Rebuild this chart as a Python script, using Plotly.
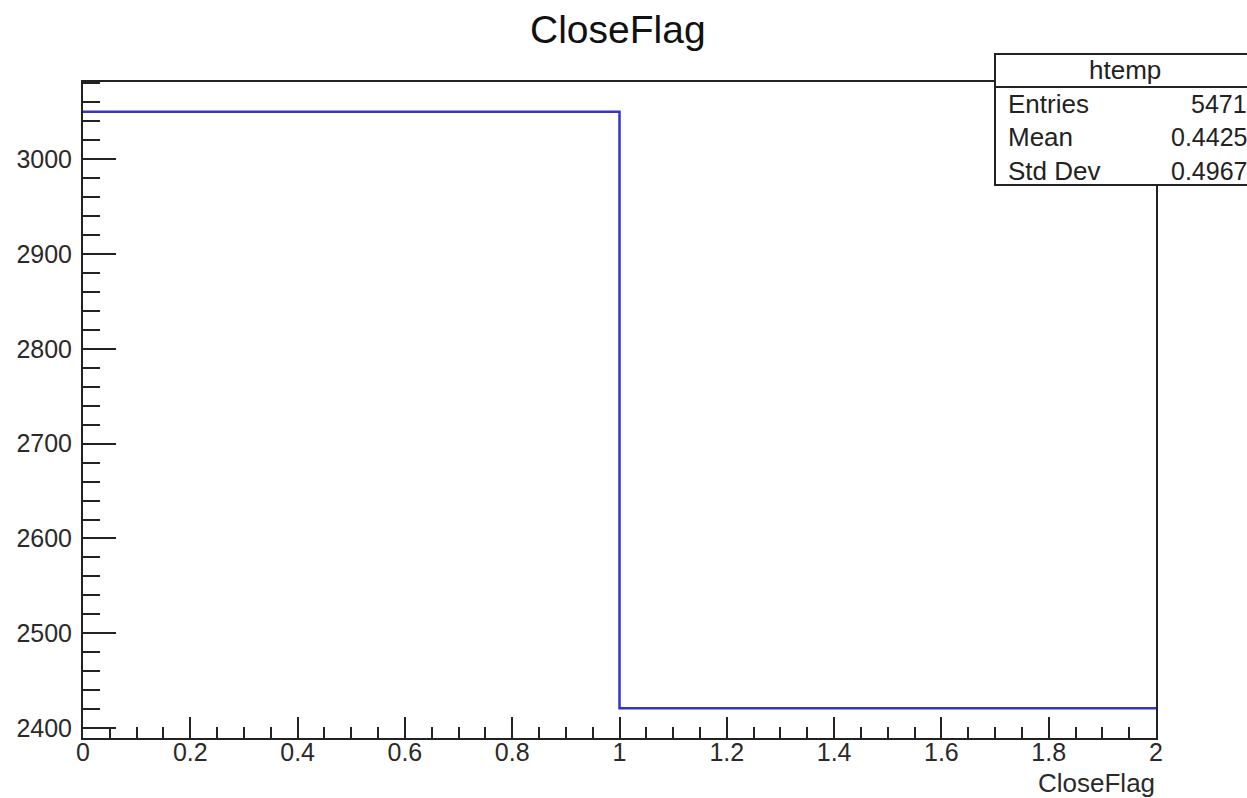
import plotly.graph_objects as go

# ---- data ----
bin_edges = [0, 1, 2]
bin_counts = [3050, 2421]
hist_name = "htemp"
stat_labels = ["Entries", "Mean", "Std Dev"]
stat_values = ["5471", "0.4425", "0.4967"]
var_name = "CloseFlag"

W, H = 1247, 798
L, R, T, B = 83, 1156, 82, 738

def px(xp):
    return (xp - L) / (R - L)

def py(yp):
    return (B - yp) / (B - T)

ymax_c, ymin_c = max(bin_counts), min(bin_counts)
span = ymax_c - ymin_c
yrange = [ymin_c - 0.05 * span, ymax_c + 0.05 * span]

xs = list(bin_edges)
ys = list(bin_counts) + [bin_counts[-1]]

fig = go.Figure()
fig.add_trace(go.Scatter(x=xs, y=ys, mode="lines", line=dict(color="#3535c0", width=2.5, shape="hv"),
                         hoverinfo="skip", showlegend=False))

font = "Liberation Sans, Arial, Helvetica, sans-serif"
fig.update_layout(
    width=W, height=H,
    margin=dict(l=L, r=W - R, t=T, b=H - B),
    paper_bgcolor="white", plot_bgcolor="white",
    font=dict(family=font, color="#222222"),
    showlegend=False,
)
fig.update_xaxes(range=[0, 2], showgrid=False, zeroline=False, showline=True, linecolor="#222222", linewidth=2,
                 mirror=True, ticks="inside", ticklen=21, tickwidth=1.5, tickcolor="#222222",
                 tick0=0, dtick=0.2, tickformat="~g", tickfont=dict(size=25, family=font, color="#2a2a2a"),
                 ticklabelstandoff=-9,
                 minor=dict(ticks="inside", ticklen=11, tickwidth=1.5, tickcolor="#222222", dtick=0.05, tick0=0, showgrid=False))
fig.update_yaxes(range=yrange, showgrid=False, zeroline=False, showline=True, linecolor="#222222", linewidth=2,
                 mirror=True, ticks="inside", ticklen=33, tickwidth=1.5, tickcolor="#222222",
                 tick0=2400, dtick=100, tickfont=dict(size=25, family=font, color="#2a2a2a"),
                 ticklabelstandoff=4,
                 minor=dict(ticks="inside", ticklen=17, tickwidth=1.5, tickcolor="#222222", dtick=20, tick0=2400, showgrid=False))

# title
fig.add_annotation(text=var_name, xref="paper", yref="paper", x=px(618), y=py(30), xanchor="center", yanchor="middle",
                   showarrow=False, font=dict(size=39, family=font, color="#111111"))
# x axis title
fig.add_annotation(text=var_name, xref="paper", yref="paper", x=px(1157), y=py(783), xanchor="right", yanchor="middle",
                   showarrow=False, font=dict(size=26, family=font, color="#2a2a2a"))

# stats box
bx0, bx1, by0, by1, bsep = 995, 1252, 54, 185, 87
fig.add_shape(type="rect", xref="paper", yref="paper", x0=px(bx0), x1=px(bx1), y0=py(by1), y1=py(by0),
              line=dict(color="#222222", width=2), fillcolor="white", layer="above")
fig.add_shape(type="line", xref="paper", yref="paper", x0=px(bx0), x1=px(bx1), y0=py(bsep), y1=py(bsep),
              line=dict(color="#222222", width=2), layer="above")
fig.add_annotation(text=hist_name, xref="paper", yref="paper", x=px(1125), y=py(70), xanchor="center", yanchor="middle",
                   showarrow=False, font=dict(size=26, family=font, color="#222222"))
row_y = [104, 137, 171]
for lab, val, yy in zip(stat_labels, stat_values, row_y):
    fig.add_annotation(text=lab, xref="paper", yref="paper", x=px(1006), y=py(yy), xanchor="left", yanchor="middle",
                       showarrow=False, font=dict(size=26, family=font, color="#222222"))
    fig.add_annotation(text=val, xref="paper", yref="paper", x=px(1249), y=py(yy), xanchor="right", yanchor="middle",
                       showarrow=False, font=dict(size=25, family=font, color="#222222"))

fig.write_html("out.html")
